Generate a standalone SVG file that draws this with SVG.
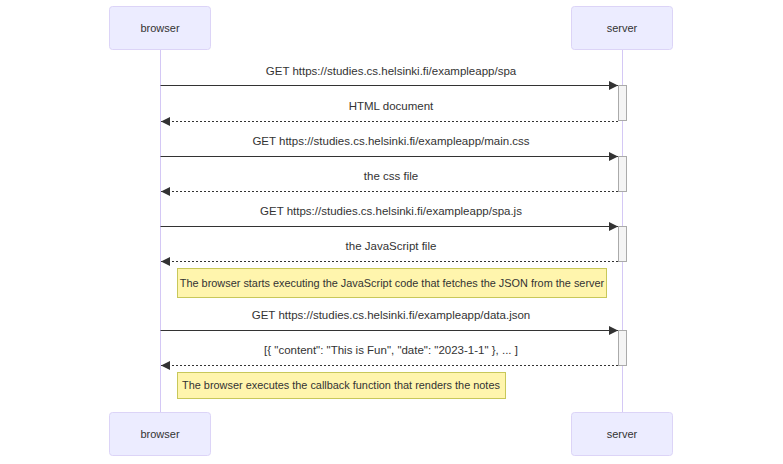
<svg xmlns="http://www.w3.org/2000/svg" width="783" height="464" viewBox="0 0 783 464">
<defs>
<style>
.actor{fill:#ECECFF;stroke:#dcd4f7;stroke-width:1}
.atext{font-family:"Liberation Sans",Arial,sans-serif;font-size:11px;fill:#333;text-anchor:middle}
.life{stroke:#d4c8f5;stroke-width:1}
.msg{stroke:#333;stroke-width:1;fill:none}
.ret{stroke:#333;stroke-width:1;stroke-dasharray:2,2;fill:none}
.mtext{font-family:"Liberation Sans",Arial,sans-serif;font-size:11.5px;fill:#333;text-anchor:middle}
.act{fill:#f4f4f4;stroke:#aaa;stroke-width:1}
.note{fill:#fff5ad;stroke:#c8c85a;stroke-width:1}
.ntext{font-family:"Liberation Sans",Arial,sans-serif;font-size:10.9px;fill:#333;text-anchor:middle}
</style>
<marker id="ah" viewBox="0 0 10 10" refX="10" refY="5" markerWidth="9" markerHeight="9" orient="auto-start-reverse" markerUnits="userSpaceOnUse">
<path d="M0,0 L10,5 L0,10 z" fill="#333"/>
</marker>
</defs>
<g id="lifelines">
<line class="life" x1="160.5" y1="50" x2="160.5" y2="412"/>
<line class="life" x1="622.5" y1="50" x2="622.5" y2="412"/>
</g>
<g id="browser-top"><rect class="actor" x="109.5" y="6.5" width="101" height="43" rx="3"/><text class="atext" x="160" y="32">browser</text></g>
<g id="server-top"><rect class="actor" x="571.5" y="6.5" width="101" height="43" rx="3"/><text class="atext" x="622" y="32">server</text></g>
<g id="browser-bottom"><rect class="actor" x="109.5" y="412.5" width="101" height="43" rx="3"/><text class="atext" x="160" y="438">browser</text></g>
<g id="server-bottom"><rect class="actor" x="571.5" y="412.5" width="101" height="43" rx="3"/><text class="atext" x="622" y="438">server</text></g>
<g id="activations">
<rect class="act" x="618.5" y="85.5" width="8" height="35"/>
<rect class="act" x="618.5" y="156.5" width="8" height="35"/>
<rect class="act" x="618.5" y="226.5" width="8" height="35"/>
<rect class="act" x="618.5" y="330.5" width="8" height="35"/>
</g>
<g id="connectors">
<line class="msg" x1="160.5" y1="85.5" x2="618" y2="85.5" marker-end="url(#ah)"/>
<line class="ret" x1="618" y1="121.5" x2="161" y2="121.5" marker-end="url(#ah)"/>
<line class="msg" x1="160.5" y1="156.5" x2="618" y2="156.5" marker-end="url(#ah)"/>
<line class="ret" x1="618" y1="191.5" x2="161" y2="191.5" marker-end="url(#ah)"/>
<line class="msg" x1="160.5" y1="226.5" x2="618" y2="226.5" marker-end="url(#ah)"/>
<line class="ret" x1="618" y1="261.5" x2="161" y2="261.5" marker-end="url(#ah)"/>
<line class="msg" x1="160.5" y1="330.5" x2="618" y2="330.5" marker-end="url(#ah)"/>
<line class="ret" x1="618" y1="365.5" x2="161" y2="365.5" marker-end="url(#ah)"/>
</g>
<g id="labels">
<text class="mtext" x="391" y="75">GET https://studies.cs.helsinki.fi/exampleapp/spa</text>
<text class="mtext" x="391" y="110">HTML document</text>
<text class="mtext" x="391" y="145">GET https://studies.cs.helsinki.fi/exampleapp/main.css</text>
<text class="mtext" x="391" y="180">the css file</text>
<text class="mtext" x="391" y="215">GET https://studies.cs.helsinki.fi/exampleapp/spa.js</text>
<text class="mtext" x="391" y="250">the JavaScript file</text>
<text class="mtext" x="391" y="319">GET https://studies.cs.helsinki.fi/exampleapp/data.json</text>
<text class="mtext" x="391" y="354">[{ "content": "This is Fun", "date": "2023-1-1" }, ... ]</text>
</g>
<g id="note1"><rect class="note" x="177.5" y="268.5" width="429" height="29"/><text class="ntext" x="392" y="286.5">The browser starts executing the JavaScript code that fetches the JSON from the server</text></g>
<g id="note2"><rect class="note" x="177.5" y="372.5" width="328" height="26"/><text class="ntext" x="341" y="389">The browser executes the callback function that renders the notes</text></g>
</svg>
